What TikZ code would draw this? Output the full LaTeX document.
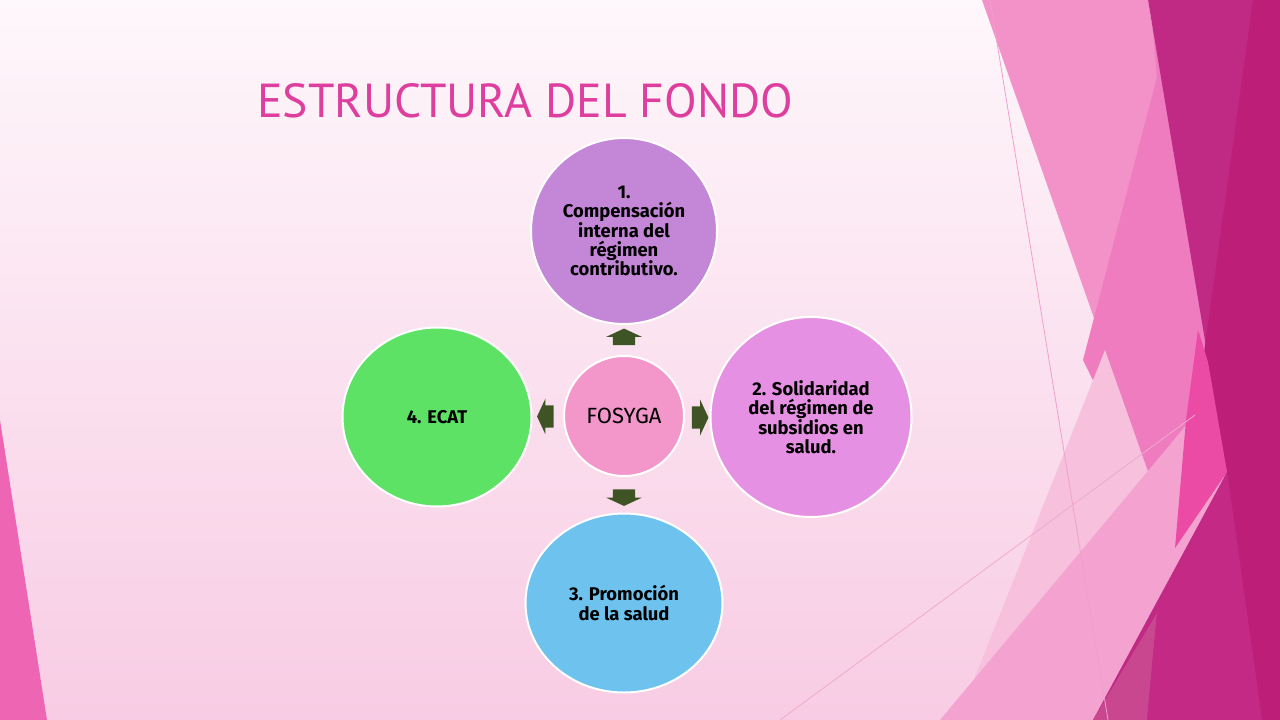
\documentclass[tikz,border=0pt]{standalone}
\usepackage{fontspec}
\setmainfont{Fira Sans}
\newfontfamily\titlefont{PT Sans}
\usetikzlibrary{shapes.geometric,shapes.arrows}
\definecolor{bgtop}{HTML}{FEF7FB}
\definecolor{bgbottom}{HTML}{F8CCE4}
\definecolor{titlepink}{HTML}{DE3F9F}
\definecolor{fillcenter}{HTML}{F397CB}
\definecolor{filltop}{HTML}{C486D6}
\definecolor{fillright}{HTML}{E590E2}
\definecolor{fillbottom}{HTML}{6EC3EE}
\definecolor{fillleft}{HTML}{5EE265}
\definecolor{arrowgreen}{HTML}{3E5424}
\begin{document}
\begin{tikzpicture}[x=0.75pt,y=-0.75pt,
    bubble/.style = {ellipse, draw=white, line width=1.5pt,
      inner sep=0pt, align=center,
      font=\bfseries\fontsize{13.8}{14.6}\selectfont},
    blockarrow/.style = {single arrow, fill=arrowgreen, draw=none,
      inner xsep=0pt, inner ysep=8.2pt, minimum height=12.5pt, minimum width=26.4pt,
      single arrow head extend=5pt, single arrow tip angle=130}]
  \useasboundingbox (0,0) rectangle (1280,720);
  % background of the slide
  \fill[top color=bgtop, bottom color=bgbottom] (0,0) rectangle (1280,720);
  \fill[color={rgb,255:red,238;green,102;blue,179}] (0,420) -- (47,720) -- (0,720) -- cycle;
  \fill[color={rgb,255:red,242;green,146;blue,200}] (982,0) -- (1148,0) -- (1227,472) -- (1175,548) -- cycle;
  \fill[color={rgb,255:red,239;green,124;blue,191}] (1150,0) -- (1227,472) -- (1175,548) -- (1083,360) -- (1157,77) -- cycle;
  \fill[color={rgb,255:red,247;green,192;blue,221}] (1105,350) -- (1175,548) -- (1093,720) -- (958,720) -- cycle;
  \fill[color={rgb,255:red,244;green,162;blue,207}] (940,720) -- (1193,417) -- (1227,472) -- (1157,613) -- (1093,720) -- cycle;
  \fill[color={rgb,255:red,193;green,42;blue,132}] (1148,0) -- (1280,0) -- (1280,720) -- (1093,720) -- (1227,472) -- cycle;
  \fill[color={rgb,255:red,188;green,30;blue,120}] (1253,0) -- (1280,0) -- (1280,720) -- (1262,720) -- (1227,472) -- (1203,360) -- cycle;
  \fill[color={rgb,255:red,236;green,75;blue,165}] (1198,330) -- (1208,362) -- (1227,472) -- (1175,548) -- (1186,420) -- cycle;
  \fill[color={rgb,255:red,200;green,71;blue,143}] (1093,720) -- (1157,613) -- (1147,720) -- cycle;
  \fill[color={rgb,255:red,196;green,42;blue,133}] (1147,720) -- (1157,613) -- (1227,472) -- (1262,720) -- cycle;
  \draw[color={rgb,255:red,240;green,160;blue,204}, line width=0.6pt] (990,0) -- (1108,720);
  \draw[color={rgb,255:red,240;green,170;blue,208}, line width=0.6pt] (780,720) -- (1195,415);
  % title
  \node[anchor=base west, inner sep=0pt, text=titlepink,
    font=\titlefont\fontsize{35.8}{42}\selectfont] (title) at (257,118) {ESTRUCTURA DEL FONDO};
  % the five circles
  \node[bubble, fill=fillcenter, minimum width=90pt, minimum height=90pt,
    font=\fontsize{16.5}{19}\selectfont] (fosyga) at (624,416) {FOSYGA};
  \node[bubble, fill=filltop, minimum width=139.5pt, minimum height=139.5pt]
    (compensacion) at (624,231) {1.\\ Compensación\\ interna del\\ régimen\\ contributivo.};
  \node[bubble, fill=fillright, minimum width=150.75pt, minimum height=150pt]
    (solidaridad) at (811,417) {2. Solidaridad\\ del régimen de\\ subsidios en\\ salud.};
  \node[bubble, fill=fillbottom, minimum width=147.75pt, minimum height=134.25pt]
    (promocion) at (624,603) {3. Promoción\\ de la salud};
  \node[bubble, fill=fillleft, minimum width=141.75pt, minimum height=134.25pt]
    (ecat) at (437,417) {4. ECAT};
  % arrows out of the centre
  \node[blockarrow, rotate=90] (aup) at (624,339.5) {};
  \node[blockarrow] (aright) at (697.5,417.5) {};
  \node[blockarrow, rotate=-90] (adown) at (624,495) {};
  \node[blockarrow, rotate=180] (aleft) at (548,416.5) {};
\end{tikzpicture}
\end{document}
